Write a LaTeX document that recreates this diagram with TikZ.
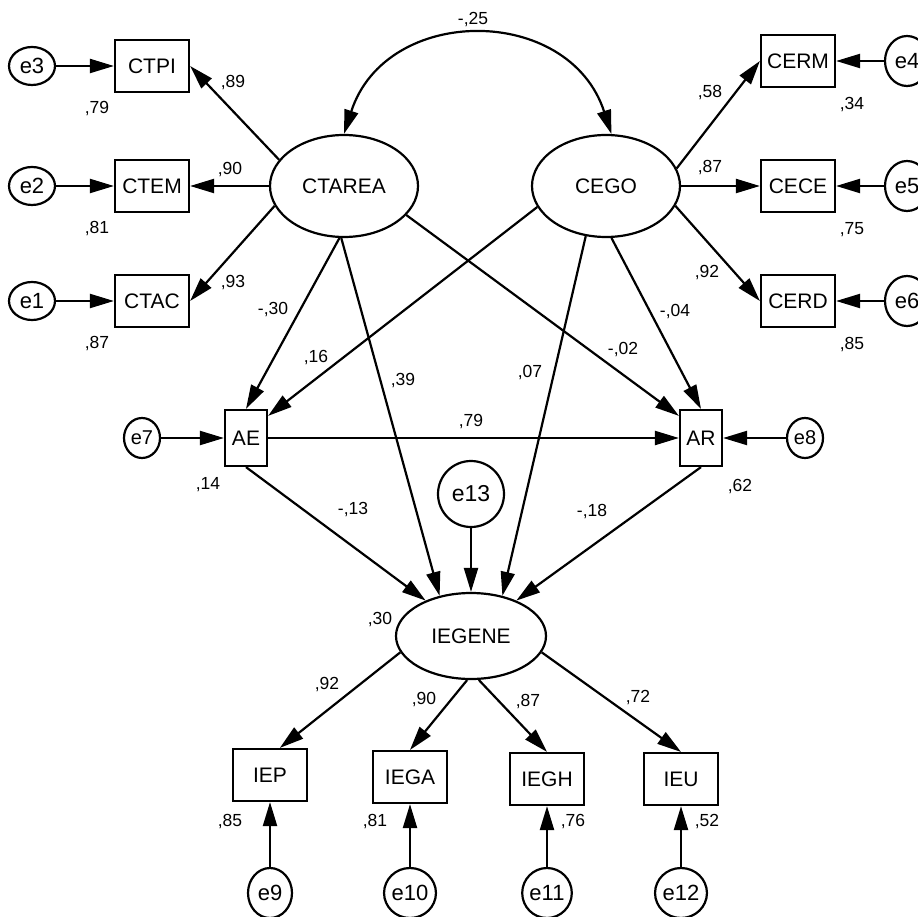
\documentclass[tikz,border=0pt]{standalone}
\usepackage{fontspec}
\setmainfont{Liberation Sans}
\usepackage{tikz}
\usetikzlibrary{arrows.meta, shapes.geometric}

\begin{document}
\begin{tikzpicture}[x=1pt, y=-1pt,
    latent/.style={ellipse, draw, line width=2.2pt, minimum width=148pt, minimum height=102pt, inner sep=0pt, font=\fontsize{21}{25}\selectfont},
    observed/.style={rectangle, draw, line width=2.2pt, minimum width=74pt, minimum height=52pt, inner sep=0pt, font=\fontsize{21}{25}\selectfont},
    errnode/.style={ellipse, draw, line width=2.2pt, minimum width=44pt, minimum height=44pt, inner sep=0pt, font=\fontsize{22}{25}\selectfont},
    arr/.style={line width=2.2pt, -{Triangle[length=24pt, width=14pt]}},
    coef/.style={font=\fontsize{17.5}{20}\selectfont, inner sep=0pt}]
    \useasboundingbox (0,0) rectangle (918,917);

    \node[latent] (CTAREA) at (344,186) {CTAREA};
    \node[latent] (CEGO) at (606,186) {CEGO};
    \node[latent, minimum width=150pt, minimum height=86pt] (IEGENE) at (471,636) {IEGENE};

    \foreach \ind/\err/\y/\r in {CTPI/e3/66/{,79}, CTEM/e2/186/{,81}, CTAC/e1/301/{,87}} {
        \node[observed] (\ind) at (152,\y) {\ind};
        \node[errnode, minimum width=46pt, minimum height=38pt] (\err) at (32,\y) {\err};
        \draw[arr] (\err) -- (\ind);
        \node[coef] (r\ind) at (97,\y+43) {\r};
    }
    \foreach \ind/\err/\y/\r in {CERM/e4/61/{,34}, CECE/e5/186/{,75}, CERD/e6/301/{,85}} {
        \node[observed] (\ind) at (798,\y) {\ind};
        \node[errnode, minimum height=50pt] (\err) at (907,\y) {\err};
        \draw[arr] (\err) -- (\ind);
        \node[coef] (r\ind) at (852,\y+44) {\r};
    }

    \draw[arr] (CTAREA.158) -- (CTPI.east);
    \draw[arr] (CTAREA.west) -- (CTEM.east);
    \draw[arr] (CTAREA.196) -- (CTAC.east);
    \draw[arr] (CEGO.14) -- (CERM.west);
    \draw[arr] (CEGO.east) -- (CECE.west);
    \draw[arr] (CEGO.-16) -- (CERD.west);
    \node[coef] (wCTPI) at (233,83) {,89};
    \node[coef] (wCTEM) at (230,170) {,90};
    \node[coef] (wCTAC) at (233,283) {,93};
    \node[coef] (wCERM) at (710,93) {,58};
    \node[coef] (wCECE) at (710,168) {,87};
    \node[coef] (wCERD) at (707,273) {,92};

    \draw[line width=2.2pt, {Triangle[length=24pt, width=14pt]}-{Triangle[length=24pt, width=14pt]}]
        (CTAREA.north) .. controls (386,4) and (569,4) .. (CEGO.84);
    \node[coef] (cov) at (473,20) {-,25};

    \node[observed, minimum width=42pt, minimum height=56pt] (AE) at (246,438) {AE};
    \node[observed, minimum width=42pt, minimum height=56pt] (AR) at (701,438) {AR};
    \node[errnode, minimum width=36pt, minimum height=40pt, font=\fontsize{20}{24}\selectfont] (e7) at (142,438) {e7};
    \node[errnode, minimum width=36pt, minimum height=40pt, font=\fontsize{20}{24}\selectfont] (e8) at (805,438) {e8};
    \node[errnode, minimum size=66pt, font=\fontsize{23}{26}\selectfont] (e13) at (471,494) {e13};
    \draw[arr] (e7) -- (AE);
    \draw[arr] (e8) -- (AR);
    \draw[arr] (AE) -- (AR);
    \draw[arr] (e13) -- (IEGENE);

    \draw[arr] (CTAREA.-95) -- (AE.north);
    \draw[arr] (CEGO.197) -- (AE.45);
    \draw[arr] (CTAREA.-25) -- (AR.135);
    \draw[arr] (CEGO.-84) -- (AR.north);
    \draw[arr] (CTAREA.-93) -- (IEGENE.128);
    \draw[arr] (CEGO.-112) -- (IEGENE.52);
    \draw[arr] (AE.south) -- (IEGENE.142);
    \draw[arr] (AR.south) -- (IEGENE.38);

    \node[coef] (bTAE) at (273,310) {-,30};
    \node[coef] (bEAE) at (316,358) {,16};
    \node[coef] (bTIE) at (403,381) {,39};
    \node[coef] (bEIE) at (530,373) {,07};
    \node[coef] (bTAR) at (623,350) {-,02};
    \node[coef] (bEAR) at (675,312) {-,04};
    \node[coef] (bAEAR) at (471,422) {,79};
    \node[coef] (rAE) at (208,485) {,14};
    \node[coef] (rAR) at (740,487) {,62};
    \node[coef] (bAEIE) at (353,510) {-,13};
    \node[coef] (bARIE) at (592,512) {-,18};
    \node[coef] (rIEGENE) at (380,620) {,30};

    \foreach \ind/\err/\x/\y/\r/\rx in {IEP/e9/270/775/{,85}/230, IEGA/e10/410/777/{,81}/375, IEGH/e11/547/779/{,76}/573, IEU/e12/681/779/{,52}/707} {
        \node[observed] (\ind) at (\x,\y) {\ind};
        \node[errnode, minimum height=50pt] (\err) at (\x,893) {\err};
        \draw[arr] (\err) -- (\ind);
        \node[coef] (r\ind) at (\rx,822) {\r};
    }
    \draw[arr] (IEGENE.193) -- (IEP.70);
    \draw[arr] (IEGENE.-95) -- (IEGA.north);
    \draw[arr] (IEGENE.-80) -- (IEGH.north);
    \draw[arr] (IEGENE.-13) -- (IEU.north);
    \node[coef] (wIEP) at (327,685) {,92};
    \node[coef] (wIEGA) at (424,700) {,90};
    \node[coef] (wIEGH) at (528,702) {,87};
    \node[coef] (wIEU) at (638,698) {,72};
\end{tikzpicture}
\end{document}
